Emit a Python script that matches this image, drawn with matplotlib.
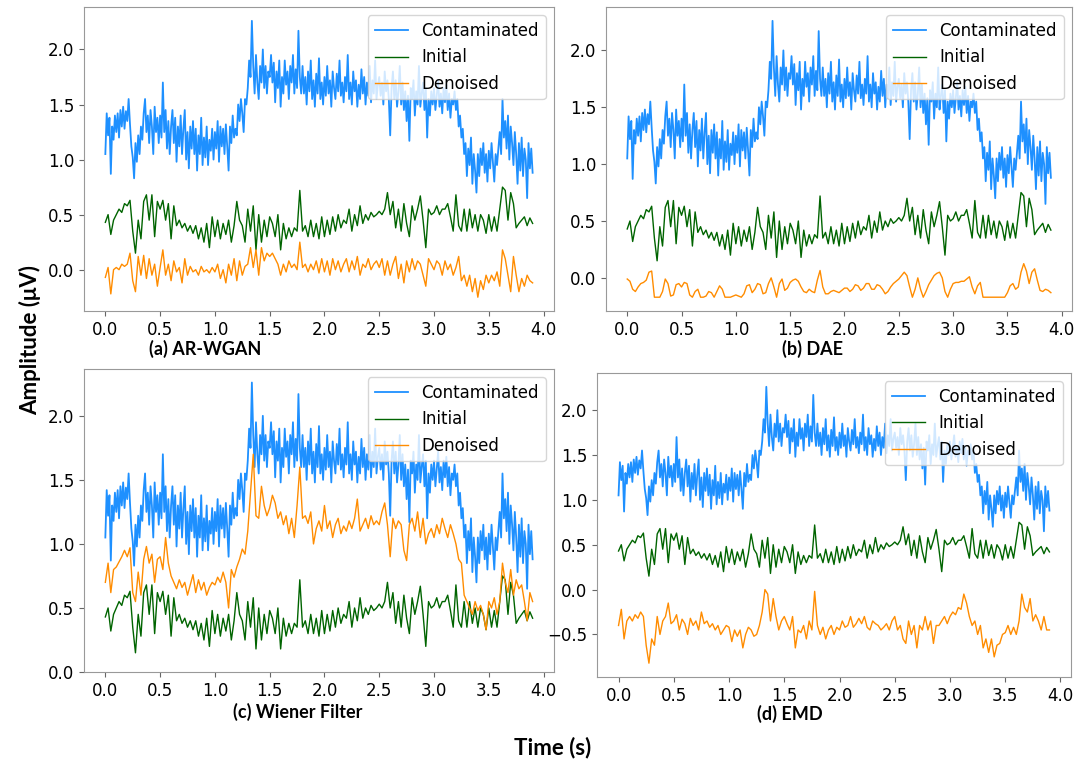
import numpy as np
import matplotlib
matplotlib.use("Agg")
import matplotlib.pyplot as plt

plt.rcParams["font.family"] = ["DejaVu Sans"]

# contaminated EEG, sampled every 0.0125 s
contaminated = [
    1.05, 1.42, 1.22, 1.38, 0.87, 1.30, 1.18, 1.40,
    1.25, 1.42, 1.20, 1.45, 1.30, 1.48, 1.28, 1.44,
    1.35, 1.55, 1.32, 1.12, 1.02, 0.83, 1.15, 0.98,
    1.22, 1.05, 1.30, 1.18, 1.42, 1.55, 1.25, 1.40,
    1.15, 1.45, 1.30, 1.05, 1.48, 1.25, 1.38, 1.15,
    1.40, 1.20, 1.70, 1.25, 1.45, 1.10, 1.35, 1.05,
    1.30, 1.45, 1.15, 1.38, 0.98, 1.30, 1.12, 1.40,
    1.05, 1.28, 1.45, 1.00, 1.25, 0.92, 1.30, 1.10,
    1.35, 1.05, 1.28, 0.90, 1.22, 1.05, 1.38, 0.95,
    1.20, 1.02, 1.30, 0.95, 1.18, 1.08, 1.28, 1.00,
    1.25, 1.10, 1.35, 0.98, 1.30, 1.12, 1.28, 1.05,
    1.32, 1.12, 0.90, 1.30, 1.15, 1.40, 1.20, 1.28,
    1.22, 1.50, 1.35, 1.55, 1.42, 1.25, 1.55, 1.50,
    1.65, 1.90, 1.75, 2.26, 1.85, 1.60, 1.95, 1.70,
    1.55, 1.85, 1.70, 2.00, 1.65, 1.85, 1.60, 1.80,
    1.75, 1.95, 1.70, 1.88, 1.52, 1.80, 1.65, 1.90,
    1.48, 1.75, 1.60, 1.90, 1.68, 1.80, 1.55, 1.85,
    1.70, 1.95, 1.60, 1.82, 1.65, 2.17, 1.75, 1.60,
    1.85, 1.60, 1.75, 1.50, 1.80, 1.62, 1.90, 1.55,
    1.72, 1.48, 1.78, 1.60, 1.92, 1.55, 1.70, 1.50,
    1.75, 1.58, 1.85, 1.60, 1.72, 1.48, 1.80, 1.65,
    1.55, 1.78, 1.62, 1.90, 1.58, 1.70, 1.52, 1.75,
    1.62, 1.95, 1.55, 1.70, 1.50, 1.80, 1.62, 1.72,
    1.48, 1.68, 1.55, 1.82, 1.60, 1.75, 1.50, 1.70,
    1.58, 1.85, 1.52, 1.72, 1.60, 1.90, 1.55, 1.68,
    1.75, 1.58, 1.70, 1.50, 1.80, 1.62, 1.72, 1.55,
    1.22, 1.65, 1.80, 1.55, 1.72, 1.48, 1.62, 1.85,
    1.50, 1.70, 1.45, 1.62, 1.35, 1.58, 1.17, 1.65,
    1.55, 1.72, 1.40, 1.62, 1.50, 1.85, 1.48, 1.60,
    1.70, 1.45, 1.65, 1.20, 1.55, 1.40, 1.62, 1.50,
    1.65, 1.45, 1.58, 1.72, 1.48, 1.60, 1.42, 1.65,
    1.52, 1.68, 1.45, 1.60, 1.38, 1.55, 1.50, 1.62,
    1.45, 1.55, 1.30, 1.40, 1.20, 1.28, 1.05, 1.15,
    0.85, 1.10, 0.95, 1.20, 0.78, 1.05, 0.90, 0.70,
    1.05, 0.85, 1.10, 0.95, 1.15, 0.88, 1.05, 0.80,
    1.08, 0.92, 1.15, 0.98, 0.80, 1.05, 0.95, 1.10,
    1.25, 1.05, 1.55, 1.20, 1.35, 1.10, 1.40, 1.00,
    1.30, 1.15, 0.95, 1.25, 1.05, 0.78, 1.15, 0.90,
    1.20, 0.85, 1.10, 1.00, 0.65, 1.15, 0.92, 1.10,
    0.88,
]

# clean EEG and the four denoised outputs, sampled every 0.025 s
initial = [
    0.43, 0.50, 0.32, 0.45, 0.50, 0.55, 0.52, 0.60,
    0.58, 0.63, 0.35, 0.15, 0.45, 0.28, 0.62, 0.68,
    0.45, 0.68, 0.30, 0.62, 0.55, 0.63, 0.45, 0.60,
    0.28, 0.58, 0.40, 0.45, 0.38, 0.42, 0.35, 0.40,
    0.33, 0.40, 0.28, 0.38, 0.25, 0.42, 0.20, 0.48,
    0.30, 0.45, 0.28, 0.42, 0.32, 0.45, 0.25, 0.40,
    0.62, 0.45, 0.40, 0.25, 0.55, 0.35, 0.58, 0.18,
    0.50, 0.25, 0.45, 0.30, 0.48, 0.42, 0.30, 0.50,
    0.18, 0.42, 0.28, 0.38, 0.30, 0.38, 0.35, 0.72,
    0.35, 0.40, 0.30, 0.45, 0.30, 0.42, 0.28, 0.48,
    0.30, 0.45, 0.32, 0.48, 0.35, 0.50, 0.38, 0.45,
    0.42, 0.55, 0.35, 0.50, 0.40, 0.58, 0.42, 0.50,
    0.45, 0.52, 0.48, 0.50, 0.53, 0.50, 0.55, 0.70,
    0.50, 0.62, 0.38, 0.55, 0.35, 0.60, 0.42, 0.30,
    0.58, 0.45, 0.55, 0.67, 0.45, 0.20, 0.55, 0.50,
    0.52, 0.58, 0.50, 0.55, 0.55, 0.60, 0.48, 0.35,
    0.68, 0.40, 0.35, 0.55, 0.35, 0.55, 0.38, 0.50,
    0.35, 0.50, 0.45, 0.33, 0.50, 0.35, 0.48, 0.35,
    0.55, 0.75, 0.72, 0.45, 0.70, 0.60, 0.38, 0.42,
    0.45, 0.48, 0.40, 0.47, 0.42,
]

den_wgan = [
    -0.07, 0.02, -0.22, 0.00, 0.02, 0.00, 0.05, 0.03,
    0.05, 0.15, -0.10, -0.20, 0.12, -0.05, 0.13, -0.08,
    0.10, -0.05, 0.05, -0.15, 0.02, 0.18, -0.05, 0.05,
    -0.10, 0.08, -0.02, 0.02, -0.12, 0.10, -0.05, 0.03,
    -0.02, 0.00, -0.05, 0.03, -0.02, 0.00, -0.03, 0.02,
    -0.02, 0.05, -0.08, 0.00, -0.12, 0.05, -0.05, 0.10,
    -0.10, 0.08, -0.05, 0.03, 0.05, 0.20, 0.02, 0.18,
    -0.05, 0.20, 0.08, 0.15, 0.12, 0.15, 0.10, 0.05,
    -0.05, 0.05, -0.02, 0.08, 0.02, 0.05, 0.00, 0.25,
    0.02, 0.05, -0.02, 0.05, 0.00, 0.08, -0.03, 0.10,
    -0.02, 0.08, -0.05, 0.10, 0.00, 0.08, -0.02, 0.05,
    0.10, -0.02, 0.08, 0.00, 0.12, -0.05, 0.05, 0.02,
    0.10, 0.00, 0.05, 0.08, 0.02, 0.10, -0.05, 0.08,
    -0.05, 0.05, 0.12, -0.08, 0.05, -0.12, 0.08, -0.02,
    0.10, 0.00, 0.08, 0.05, -0.05, -0.15, 0.10, 0.05,
    0.00, 0.08, 0.05, -0.05, 0.08, 0.00, 0.05, -0.05,
    0.02, 0.12, -0.10, -0.05, -0.15, -0.05, -0.20, -0.08,
    -0.25, -0.10, -0.18, -0.05, -0.12, -0.05, -0.10, -0.02,
    -0.15, 0.18, 0.10, -0.05, -0.20, 0.12, -0.05, -0.20,
    -0.08, -0.15, -0.05, -0.10, -0.12,
]

den_dae = [
    -0.01, -0.03, -0.10, -0.12, -0.08, -0.05, -0.04, -0.02,
    0.05, 0.06, -0.17, -0.17, -0.17, -0.12, -0.01, -0.05,
    -0.16, -0.15, -0.06, -0.05, -0.08, -0.04, -0.05, -0.15,
    -0.17, -0.12, -0.10, -0.17, -0.17, -0.16, -0.12, -0.13,
    -0.17, -0.12, -0.07, -0.10, -0.17, -0.17, -0.17, -0.16,
    -0.15, -0.16, -0.17, -0.14, -0.07, -0.06, -0.13, -0.10,
    -0.05, -0.06, -0.14, -0.13, -0.05, 0.00, -0.08, -0.17,
    -0.05, -0.01, -0.11, -0.09, -0.04, -0.02, -0.01, -0.03,
    -0.08, -0.12, -0.13, -0.10, -0.12, -0.13, -0.02, 0.065,
    -0.08, -0.14, -0.14, -0.12, -0.11, -0.12, -0.13, -0.11,
    -0.09, -0.09, -0.12, -0.10, -0.06, -0.07, -0.11, -0.09,
    -0.05, -0.05, -0.10, -0.10, -0.06, -0.07, -0.10, -0.14,
    -0.12, -0.08, -0.05, -0.03, -0.01, 0.02, 0.05, 0.02,
    -0.08, -0.17, -0.10, 0.00, -0.10, -0.17, -0.12, -0.06,
    -0.02, 0.02, 0.04, 0.05, 0.00, -0.12, -0.17, -0.10,
    -0.05, -0.04, -0.04, -0.03, -0.03, -0.01, 0.01, -0.08,
    -0.14, -0.07, -0.04, -0.17, -0.17, -0.17, -0.17, -0.17,
    -0.17, -0.17, -0.17, -0.17, -0.13, -0.07, -0.05, -0.10,
    -0.08, 0.05, 0.125, 0.06, -0.05, 0.05, 0.08, -0.02,
    -0.11, -0.12, -0.10, -0.11, -0.13,
]

den_wiener = [
    0.70, 0.85, 0.62, 0.80, 0.82, 0.86, 0.90, 0.95,
    0.90, 0.97, 0.62, 0.55, 0.78, 0.60, 0.88, 0.98,
    0.85, 0.92, 0.70, 0.88, 0.90, 0.80, 1.05, 0.85,
    0.75, 0.70, 0.65, 0.72, 0.66, 0.70, 0.60, 0.68,
    0.76, 0.62, 0.72, 0.64, 0.70, 0.60, 0.66, 0.70,
    0.68, 0.74, 0.70, 0.78, 0.70, 0.50, 0.80, 0.74,
    0.82, 0.88, 0.96, 0.92, 1.10, 1.40, 1.70, 1.22,
    1.20, 1.45, 1.30, 1.22, 1.28, 1.38, 1.32, 1.20,
    1.25, 1.15, 1.22, 1.08, 1.20, 1.05, 1.30, 1.60,
    1.20, 1.22, 1.16, 1.25, 1.00, 1.12, 1.18, 1.10,
    1.30, 1.12, 1.18, 1.05, 1.15, 1.20, 1.08, 1.14,
    1.10, 1.18, 1.12, 1.20, 1.35, 1.10, 1.15, 1.20,
    1.12, 1.22, 1.15, 1.18, 1.15, 1.25, 1.32, 1.15,
    0.90, 1.20, 1.12, 1.18, 1.15, 0.95, 0.87, 1.15,
    1.20, 1.10, 1.25, 1.05, 1.20, 1.00, 1.08, 1.12,
    1.05, 1.15, 1.08, 1.20, 1.12, 1.05, 1.15, 1.08,
    1.00, 0.88, 0.85, 0.60, 0.55, 0.50, 0.45, 0.55,
    0.48, 0.52, 0.45, 0.33, 0.55, 0.50, 0.58, 0.45,
    0.55, 0.85, 0.70, 0.62, 0.80, 0.60, 0.72, 0.65,
    0.68, 0.55, 0.40, 0.62, 0.55,
]

den_emd = [
    -0.40, -0.22, -0.55, -0.35, -0.30, -0.35, -0.28, -0.32,
    -0.25, -0.30, -0.62, -0.82, -0.55, -0.62, -0.30, -0.50,
    -0.35, -0.30, -0.15, -0.38, -0.35, -0.28, -0.45, -0.33,
    -0.38, -0.50, -0.32, -0.40, -0.35, -0.45, -0.25, -0.38,
    -0.35, -0.42, -0.38, -0.45, -0.40, -0.50, -0.45, -0.40,
    -0.42, -0.58, -0.45, -0.52, -0.45, -0.65, -0.50, -0.42,
    -0.45, -0.52, -0.50, -0.40, -0.25, 0.00, -0.05, -0.35,
    -0.10, -0.30, -0.45, -0.35, -0.30, -0.38, -0.45, -0.30,
    -0.65, -0.45, -0.48, -0.40, -0.55, -0.35, -0.45, -0.02,
    -0.40, -0.50, -0.42, -0.55, -0.45, -0.40, -0.50, -0.42,
    -0.45, -0.35, -0.42, -0.40, -0.30, -0.42, -0.38, -0.32,
    -0.38, -0.30, -0.42, -0.45, -0.35, -0.38, -0.40, -0.45,
    -0.42, -0.38, -0.45, -0.35, -0.30, -0.45, -0.40, -0.55,
    -0.60, -0.35, -0.50, -0.40, -0.65, -0.40, -0.45, -0.30,
    -0.45, -0.35, -0.60, -0.40, -0.40, -0.35, -0.30, -0.38,
    -0.30, -0.25, -0.28, -0.20, -0.22, -0.05, -0.15, -0.30,
    -0.40, -0.35, -0.50, -0.40, -0.65, -0.55, -0.70, -0.55,
    -0.75, -0.62, -0.60, -0.50, -0.48, -0.40, -0.50, -0.42,
    -0.50, -0.35, -0.05, -0.20, -0.25, -0.10, -0.35, -0.28,
    -0.35, -0.45, -0.30, -0.45, -0.45,
]

captions = ["(a) AR-WGAN", "(b) DAE", "(c) Wiener Filter", "(d) EMD"]
denoised_sets = [den_wgan, den_dae, den_wiener, den_emd]

t_fast = np.arange(len(contaminated)) * 0.0125
t_slow = np.arange(len(initial)) * 0.025

fig = plt.figure(figsize=(10.78, 7.64), dpi=100)

boxes = [
    [0.0779, 0.5929, 0.4360, 0.3979],
    [0.5622, 0.5929, 0.4323, 0.3979],
    [0.0779, 0.1204, 0.4360, 0.3966],
    [0.5538, 0.1139, 0.4397, 0.3979],
]
cap_pos = [(205, 349), (813, 349), (298, 712), (790, 714)]
label_font = ["Lato", "DejaVu Sans"]

for i in range(4):
    ax = fig.add_axes(boxes[i])
    ax.plot(t_fast, contaminated, color="#1E90FF", lw=1.3, label="Contaminated")
    ax.plot(t_slow, initial, color="darkgreen", lw=1.0, label="Initial")
    ax.plot(t_slow, denoised_sets[i], color="darkorange", lw=1.0, label="Denoised")
    if i == 2:
        ax.set_ylim(bottom=0)
    ax.tick_params(labelsize=12, color="0.4")
    for s in ax.spines.values():
        s.set_color("0.6")
    ax.legend(loc="upper right", fontsize=12)
    x, y = cap_pos[i]
    fig.text(x / 1078, 1 - y / 764, captions[i], ha="center", va="center",
             fontsize=13, fontweight="bold", family=label_font)

fig.text(30 / 1078, 1 - 340 / 764, "Amplitude (μV)", rotation=90, ha="center", va="center",
         fontsize=16, fontweight="bold", family=label_font)
fig.text(553 / 1078, 1 - 748 / 764, "Time (s)", ha="center", va="center",
         fontsize=16, fontweight="bold", family=label_font)

fig.savefig("out.png", dpi=100)
